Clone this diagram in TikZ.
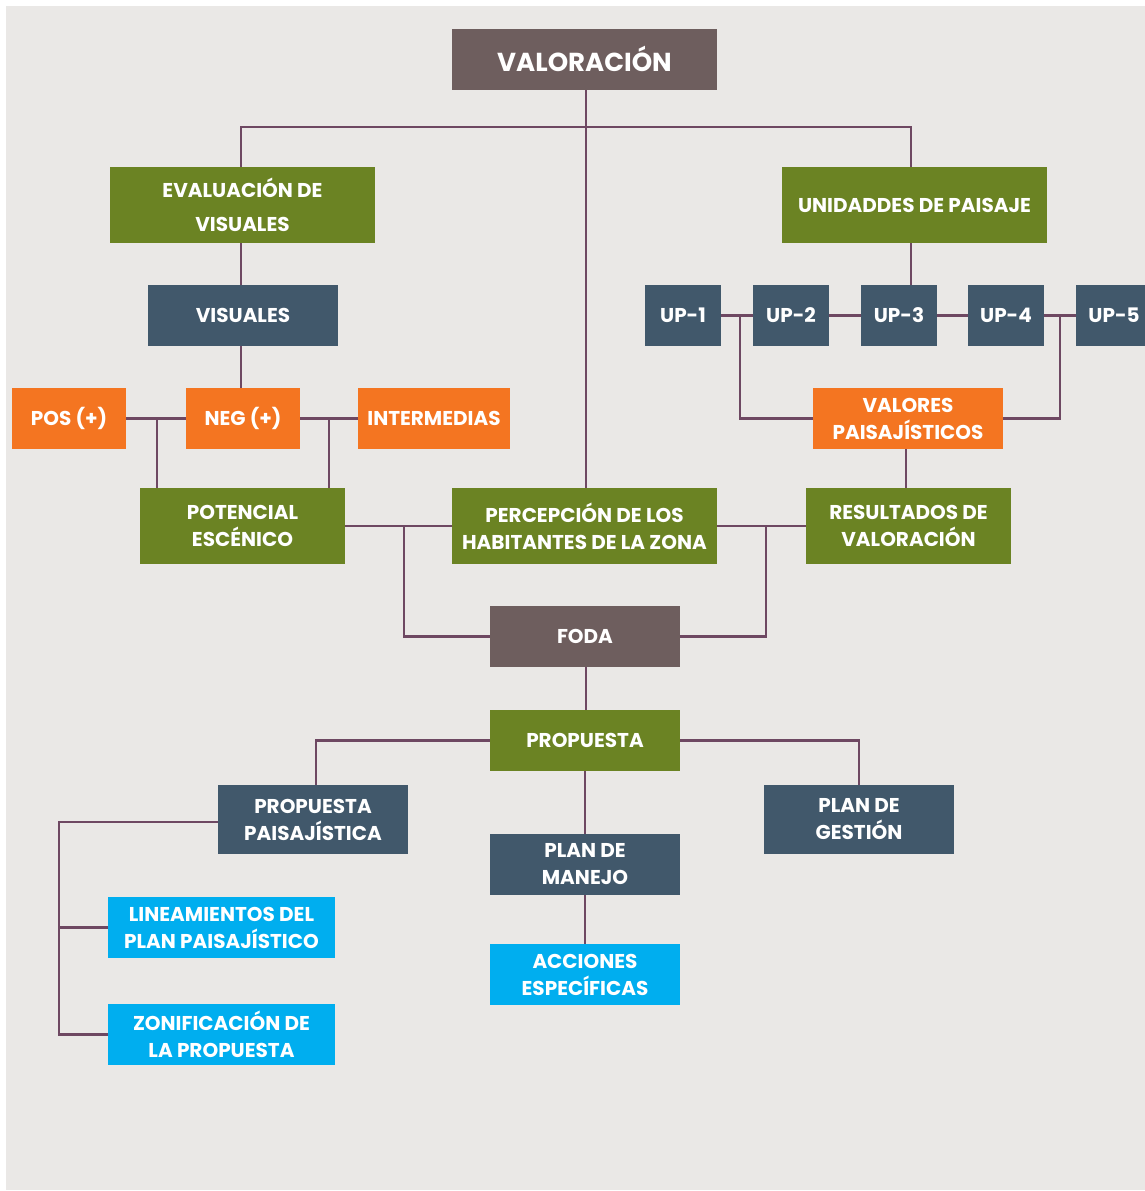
\documentclass[tikz,border=0pt]{standalone}
\usepackage{fontspec}
\setmainfont{Poppins}
\usetikzlibrary{calc}
\definecolor{bgc}{RGB}{234,232,230}
\definecolor{brn}{RGB}{110,94,94}
\definecolor{grn}{RGB}{107,131,35}
\definecolor{slt}{RGB}{65,88,107}
\definecolor{org}{RGB}{244,117,33}
\definecolor{cyn}{RGB}{0,174,239}
\definecolor{lnc}{RGB}{110,72,98}
\tikzset{
  box/.style={inner sep=0pt, text=white, align=center, font=\bfseries\fontsize{20}{27}\selectfont},
  conn/.style={draw=lnc, line width=2.6pt},
}
\begin{document}
\begin{tikzpicture}[x=1pt,y=-1pt]
\useasboundingbox (0,0) rectangle (1145,1191);
\fill[white] (0,0) rectangle (1145,1191);
\fill[bgc] (6,6) rectangle (1145,1190);
% nodes
\node[box, fill=brn, minimum width=265, minimum height=61, font=\bfseries\fontsize{26}{30}\selectfont] (val) at (584.5,59.5) {\raisebox{1.5pt}{VALORACIÓN}};
\node[box, fill=grn, minimum width=265, minimum height=76, font=\bfseries\fontsize{20}{34}\selectfont] (eval) at (242.5,205) {EVALUACIÓN DE\\VISUALES};
\node[box, fill=grn, minimum width=265, minimum height=76] (uni) at (914.5,205) {UNIDADDES DE PAISAJE};
\node[box, fill=slt, minimum width=190, minimum height=61] (vis) at (243,315.5) {VISUALES};
\node[box, fill=slt, minimum width=76, minimum height=61] (up1) at (683,315.5) {UP-1};
\node[box, fill=slt, minimum width=76, minimum height=61] (up2) at (791,315.5) {UP-2};
\node[box, fill=slt, minimum width=76, minimum height=61] (up3) at (899,315.5) {UP-3};
\node[box, fill=slt, minimum width=76, minimum height=61] (up4) at (1006,315.5) {UP-4};
\node[box, fill=slt, minimum width=69, minimum height=61] (up5) at (1110.5,315.5) {\hspace*{7pt}UP-5};
\node[box, fill=org, minimum width=114, minimum height=61] (pos) at (69,418.5) {POS (+)};
\node[box, fill=org, minimum width=114, minimum height=61] (neg) at (243,418.5) {NEG (+)};
\node[box, fill=org, minimum width=152, minimum height=61] (int) at (434,418.5) {INTERMEDIAS};
\node[box, fill=org, minimum width=190, minimum height=61] (vp) at (908,418.5) {VALORES\\PAISAJÍSTICOS};
\node[box, fill=grn, minimum width=205, minimum height=76] (pot) at (242.5,526) {POTENCIAL\\ESCÉNICO};
\node[box, fill=grn, minimum width=265, minimum height=76] (per) at (584.5,526) {PERCEPCIÓN DE LOS\\HABITANTES DE LA ZONA};
\node[box, fill=grn, minimum width=205, minimum height=76] (res) at (908.5,526) {RESULTADOS DE\\VALORACIÓN};
\node[box, fill=brn, minimum width=190, minimum height=61] (foda) at (585,636.5) {FODA};
\node[box, fill=grn, minimum width=190, minimum height=61] (prop) at (585,740.5) {PROPUESTA};
\node[box, fill=slt, minimum width=190, minimum height=69] (pp) at (313,819.5) {PROPUESTA\\PAISAJÍSTICA};
\node[box, fill=slt, minimum width=190, minimum height=61] (pm) at (585,864.5) {PLAN DE\\MANEJO};
\node[box, fill=slt, minimum width=190, minimum height=69] (pg) at (859,819.5) {PLAN DE\\GESTIÓN};
\node[box, fill=cyn, minimum width=227, minimum height=61] (lin) at (221.5,927.5) {LINEAMIENTOS DEL\\PLAN PAISAJÍSTICO};
\node[box, fill=cyn, minimum width=190, minimum height=61] (acc) at (585,974.5) {ACCIONES\\ESPECÍFICAS};
\node[box, fill=cyn, minimum width=227, minimum height=61] (zon) at (221.5,1034.5) {ZONIFICACIÓN DE\\LA PROPUESTA};
% junction coordinates
\coordinate (jpos) at (157,418.5);
\coordinate (jint) at (329,418.5);
\coordinate (jl) at (404,526);
\coordinate (jr) at (766,526);
\coordinate (ju1) at (740,315.5);
\coordinate (ju4) at (1060,315.5);
\coordinate (lx) at (59,0);
% connectors
\draw[conn] ([xshift=1.5]val.south) -- ([xshift=1.5]per.north);
\draw[conn] ([xshift=-1.5]eval.north) -- ++(0,-40) -| ([xshift=-3.5]uni.north);
\draw[conn] ([xshift=-1.5]eval.south) -- ([xshift=-2]vis.north);
\draw[conn] ([xshift=-2]vis.south) -- ([xshift=-2]neg.north);
\draw[conn] (pos.east) -- (neg.west);
\draw[conn] (neg.east) -- (int.west);
\draw[conn] (jpos) -- (jpos |- pot.north);
\draw[conn] (jint) -- (jint |- pot.north);
\draw[conn] ([xshift=-3.5]uni.south) -- ([xshift=-3.5]uni.south |- up3.north);
\draw[conn] (up1.east) -- (up2.west);
\draw[conn] (up2.east) -- (up3.west);
\draw[conn] (up3.east) -- (up4.west);
\draw[conn] (up4.east) -- (up5.west);
\draw[conn] (ju1) |- (vp.west);
\draw[conn] (ju4) |- (vp.east);
\draw[conn] ([xshift=-2]vp.south) -- ([xshift=-2]vp.south |- res.north);
\draw[conn] (pot.east) -- (per.west);
\draw[conn] (per.east) -- (res.west);
\draw[conn] (jl) |- (foda.west);
\draw[conn] (jr) |- (foda.east);
\draw[conn] ([xshift=1]foda.south) -- ([xshift=1]prop.north);
\draw[conn] (prop.west) -| ([xshift=3]pp.north);
\draw[conn] (prop.east) -| (pg.north);
\draw[conn] (prop.south) -- (pm.north);
\draw[conn] (pm.south) -- (acc.north);
\draw[conn] ([yshift=-2.5]pp.west) -- ([yshift=-2.5]pp.west -| lx) |- (zon.west);
\draw[conn] (lin.west) -- (lin.west -| lx);
\end{tikzpicture}
\end{document}
